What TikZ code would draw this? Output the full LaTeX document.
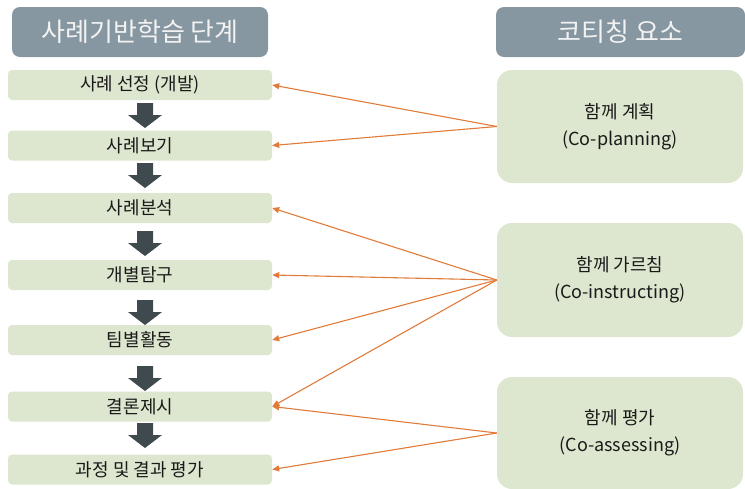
\documentclass[tikz,border=0pt]{standalone}
\usepackage{fontspec}
\setmainfont{Noto Sans CJK KR}
\usetikzlibrary{arrows.meta}
\definecolor{hdr}{HTML}{8697A1}
\definecolor{boxg}{HTML}{DDE6CE}
\definecolor{orng}{HTML}{E07B39}
\definecolor{darkar}{HTML}{3F4A4F}
\definecolor{txt}{HTML}{1A1A1A}
\tikzset{
  header/.style={fill=hdr, rounded corners=8pt, text=white!95!black, font=\fontsize{26}{30}\selectfont, minimum height=50pt, inner sep=0pt},
  stepbox/.style={fill=boxg, rounded corners=4pt, minimum width=264pt, minimum height=30pt, inner sep=0pt, text=txt, font=\fontsize{18}{21}\selectfont},
  elembox/.style={fill=boxg, rounded corners=15pt, minimum width=246pt, inner sep=0pt, text=txt, align=center, font=\fontsize{18}{27}\selectfont},
  link/.style={draw=orng, line width=1.1pt, -{Triangle[length=7pt,width=6pt]}},
}
\newcommand{\downblk}[3]{\fill[darkar] (#1-8,#2) -- (#1+8,#2) -- (#1+8,#2+12) -- (#1+17,#2+12) -- (#1,#3) -- (#1-17,#2+12) -- (#1-8,#2+12) -- cycle;}
\begin{document}
\begin{tikzpicture}[x=1pt,y=-1pt]
\useasboundingbox (0,0) rectangle (745,488);
\begin{scope}
\clip (0,0) rectangle (745,488);
\node[header, minimum width=256pt] (hL) at (140,32) {사례기반학습 단계};
\node[header, minimum width=249pt] (hR) at (620.5,32) {코티칭 요소};

\node[stepbox] (s1) at (140,85) {사례 선정 (개발)};
\node[stepbox] (s2) at (140,145.5) {사례보기};
\node[stepbox] (s3) at (140,208) {사례분석};
\node[stepbox] (s4) at (140,275) {개별탐구};
\node[stepbox] (s5) at (140,340) {팀별활동};
\node[stepbox] (s6) at (140,406.5) {결론제시};
\node[stepbox] (s7) at (140,469.5) {과정 및 결과 평가};

\downblk{145}{103}{128}
\downblk{145}{163}{188}
\downblk{145}{231}{256}
\downblk{145}{300}{325}
\downblk{145}{366}{391}
\downblk{145}{423}{448}

\node[elembox, minimum height=113pt] (e1) at (620,126.5) {함께 계획\\(Co-planning)};
\node[elembox, minimum height=114pt] (e2) at (620,280) {함께 가르침\\(Co-instructing)};
\node[elembox, minimum height=112pt] (e3) at (620,433) {함께 평가\\(Co-assessing)};

\draw[link] (e1.west) -- (s1.east);
\draw[link] (e1.west) -- (s2.east);
\draw[link] (e2.west) -- (s3.east);
\draw[link] (e2.west) -- (s4.east);
\draw[link] (e2.west) -- (s5.east);
\draw[link] (e2.west) -- (s6.east);
\draw[link] (e3.west) -- (s6.east);
\draw[link] (e3.west) -- (s7.east);
\end{scope}
\end{tikzpicture}
\end{document}
